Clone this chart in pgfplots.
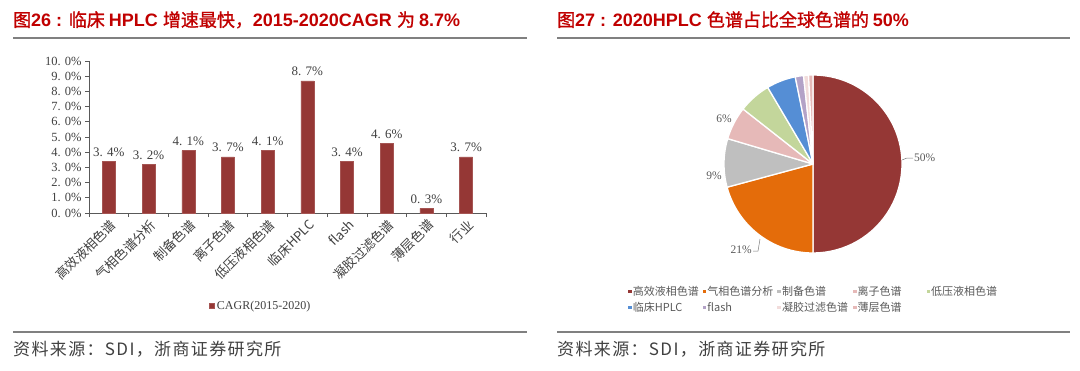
\documentclass[border=0pt]{standalone}
\usepackage{fontspec}
\usepackage{pgfplots}
\pgfplotsset{compat=1.18}
\setmainfont{Liberation Serif}
\newfontfamily\cjk{Noto Sans CJK SC}
\newfontfamily\cjkt{Noto Sans CJK SC}[FakeBold=1.2]
\newfontfamily\cjkls{Noto Sans CJK SC}[LetterSpace=8]
\newfontfamily\hei{Liberation Sans}
\definecolor{titlered}{HTML}{C00000}
\definecolor{rulegray}{HTML}{808080}
\definecolor{txtgray}{HTML}{404040}
\definecolor{axgray}{HTML}{595959}
\definecolor{barred}{HTML}{953735}
\definecolor{p1}{HTML}{953735}
\definecolor{p2}{HTML}{E46C0A}
\definecolor{p3}{HTML}{BFBFBF}
\definecolor{p4}{HTML}{E6B9B8}
\definecolor{p5}{HTML}{C3D69B}
\definecolor{p6}{HTML}{558ED5}
\definecolor{p7}{HTML}{B3A2C7}
\definecolor{p8}{HTML}{F2DCDB}
\definecolor{p9}{HTML}{E6B9B8}
\begin{document}
\begin{tikzpicture}
\path (0pt,0pt) rectangle (1080pt,-370pt);
% titles
\node[anchor=base west, inner sep=0pt, text=titlered] at (13pt,-26.5pt)
 {\fontsize{18pt}{20pt}\selectfont{\cjkt 图}{\hei\bfseries 26 : }{\cjkt 临床 }{\hei\bfseries HPLC }{\cjkt 增速最快，}{\hei\bfseries 2015-2020CAGR }{\cjkt 为 }{\hei\bfseries 8.7\%}};
\node[anchor=base west, inner sep=0pt, text=titlered] at (557pt,-26.5pt)
 {\fontsize{18pt}{20pt}\selectfont{\cjkt 图}{\hei\bfseries 27 : 2020HPLC }{\cjkt 色谱占比全球色谱的 }{\hei\bfseries 50\%}};
% rules
\draw[rulegray, line width=2pt] (13pt,-38pt) -- (527pt,-38pt);
\draw[rulegray, line width=2pt] (557pt,-38pt) -- (1070pt,-38pt);
\draw[rulegray, line width=1.8pt] (13pt,-332pt) -- (527pt,-332pt);
\draw[rulegray, line width=1.8pt] (557pt,-332pt) -- (1070pt,-332pt);
% sources
\node[anchor=base west, inner sep=0pt, text=txtgray] at (13pt,-355pt)
 {\fontsize{17pt}{20pt}\selectfont\cjkls 资料来源：SDI，浙商证券研究所};
\node[anchor=base west, inner sep=0pt, text=txtgray] at (557pt,-355pt)
 {\fontsize{17pt}{20pt}\selectfont\cjkls 资料来源：SDI，浙商证券研究所};

% bar chart
\begin{axis}[
  at={(89pt,-213pt)}, anchor=south west,
  scale only axis, width=397pt, height=152pt,
  xmin=-0.5, xmax=9.5, ymin=0, ymax=10,
  axis lines*=left,
  axis line style={draw=axgray, line width=0.8pt},
  tick align=outside,
  tick style={draw=axgray, line width=0.8pt},
  major tick length=4pt,
  ytick={0,1,...,10},
  yticklabels={0. 0\%,1. 0\%,2. 0\%,3. 0\%,4. 0\%,5. 0\%,6. 0\%,7. 0\%,8. 0\%,9. 0\%,10. 0\%},
  yticklabel style={font=\fontsize{12.5pt}{13pt}\selectfont, text=txtgray},
  xtick={-0.5,0.5,...,9.5},
  x tick label as interval,
  xticklabels={高效液相色谱,气相色谱分析,制备色谱,离子色谱,低压液相色谱,临床HPLC,flash,凝胶过滤色谱,薄层色谱,行业},
  xticklabel style={font=\fontsize{13pt}{14pt}\selectfont\cjk, rotate=45, anchor=east, text=txtgray, yshift=-7pt, xshift=3pt},
  ybar, bar width=13pt,
  legend style={at={(0.433,-0.612)}, anchor=center, draw=none, fill=none,
    font=\fontsize{12pt}{13pt}\selectfont, text=txtgray},
  legend image code/.code={\fill[#1] (0pt,-2.5pt) rectangle (5pt,2.5pt);},
]
\addplot[fill=barred, draw=barred!85!white, line width=0.5pt,
  point meta=explicit symbolic, nodes near coords,
  every node near coord/.append style={font=\fontsize{13pt}{14pt}\selectfont, text=txtgray, yshift=1pt}]
 coordinates {(0,3.4) [3. 4\%] (1,3.2) [3. 2\%] (2,4.1) [4. 1\%] (3,3.7) [3. 7\%] (4,4.1) [4. 1\%]
              (5,8.7) [8. 7\%] (6,3.4) [3. 4\%] (7,4.6) [4. 6\%] (8,0.3) [0. 3\%] (9,3.7) [3. 7\%]};
\addlegendentry{CAGR(2015-2020)}
\end{axis}

% pie chart
\begin{axis}[
  at={(813pt,-164pt)}, anchor=origin,
  x=1pt, y=1pt, xmin=-100, xmax=100, ymin=-100, ymax=100,
  hide axis, clip=false,
  legend columns=5,
  legend style={at={(-0.44,-0.095)}, anchor=north west, draw=none, fill=none,
    font=\fontsize{11pt}{12pt}\selectfont\cjk, text=axgray,
    nodes={inner sep=1pt}, row sep=3pt,
    /tikz/every even column/.append style={column sep=0pt}},
  legend image code/.code={\fill[#1] (0pt,-1.8pt) rectangle (3.6pt,1.8pt);},
]
\addlegendimage{fill=p1,draw=none}\addlegendentry{\makebox[69pt][l]{高效液相色谱}}
\addlegendimage{fill=p2,draw=none}\addlegendentry{\makebox[69pt][l]{气相色谱分析}}
\addlegendimage{fill=p3,draw=none}\addlegendentry{\makebox[70pt][l]{制备色谱}}
\addlegendimage{fill=p4,draw=none}\addlegendentry{\makebox[68pt][l]{离子色谱}}
\addlegendimage{fill=p5,draw=none}\addlegendentry{\makebox[68pt][l]{低压液相色谱}}
\addlegendimage{fill=p6,draw=none}\addlegendentry{\makebox[69pt][l]{临床HPLC}}
\addlegendimage{fill=p7,draw=none}\addlegendentry{\makebox[69pt][l]{flash}}
\addlegendimage{fill=p8,draw=none}\addlegendentry{\makebox[70pt][l]{凝胶过滤色谱}}
\addlegendimage{fill=p9,draw=none}\addlegendentry{\makebox[68pt][l]{薄层色谱}}
\gdef\pieS{90}
\foreach \v/\c in {50/p1, 20.8/p2, 8.8/p3, 6.0/p4, 5.9/p5, 5.3/p6, 1.5/p7, 0.9/p8, 0.8/p9}{
  \pgfmathsetmacro\pieE{\pieS-3.6*\v}
  \edef\temp{\noexpand\fill[\c, draw=white, line width=1.3pt, line join=round]
    (axis cs:0,0) -- ++(\pieS:89pt) arc[start angle=\pieS, end angle=\pieE, radius=89pt] -- cycle;}
  \temp
  \xdef\pieS{\pieE}
}
\draw[axgray!80, line width=0.5pt] (axis cs:89,4) -- (axis cs:94,6) -- (axis cs:100,6);
\node[anchor=west, inner sep=1pt, text=axgray, font=\fontsize{11.5pt}{12pt}\selectfont] at (axis cs:100,6) {50\%};
\draw[axgray!80, line width=0.5pt] (axis cs:-53,-75) -- (axis cs:-55,-87) -- (axis cs:-60,-87);
\node[anchor=east, inner sep=1pt, text=axgray, font=\fontsize{11.5pt}{12pt}\selectfont] at (axis cs:-60,-86) {21\%};
\node[text=axgray, inner sep=0pt, font=\fontsize{11.5pt}{12pt}\selectfont] at (axis cs:-99,-12) {9\%};
\node[text=axgray, inner sep=0pt, font=\fontsize{11.5pt}{12pt}\selectfont] at (axis cs:-89,45) {6\%};
\end{axis}
\end{tikzpicture}
\end{document}
